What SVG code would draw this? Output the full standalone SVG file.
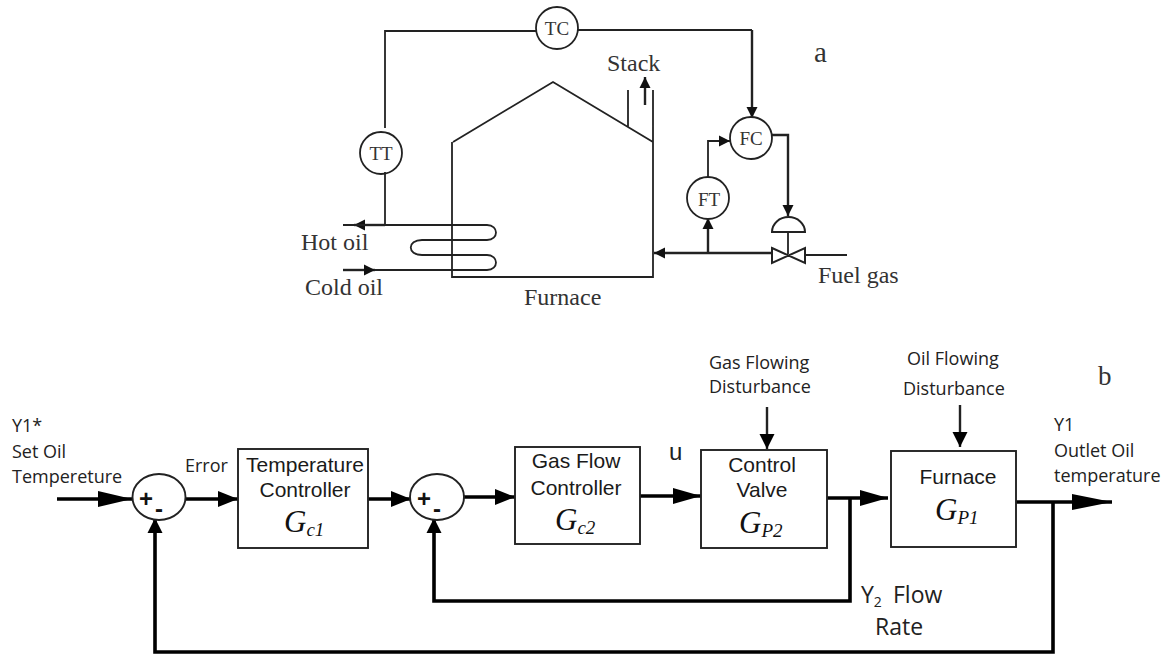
<svg xmlns="http://www.w3.org/2000/svg" width="1173" height="655" viewBox="0 0 1173 655">
<style>
.p{fill:none;stroke:#222;stroke-width:1.8}
.t{fill:none;stroke:#222;stroke-width:2.4}
.v{fill:none;stroke:#222;stroke-width:2}
.b{fill:#fff;stroke:#222;stroke-width:1.9}
.k{fill:none;stroke:#000;stroke-width:3.6}
.s{font-family:"Liberation Serif",serif;font-size:24px;fill:#333}
.i{font-family:"Liberation Serif",serif;font-size:19px;fill:#333;text-anchor:middle}
.a{font-family:"Liberation Sans",Arial,sans-serif;font-size:21px;fill:#1a1a1a;text-anchor:middle}
.o{font-family:"Open Sans",sans-serif;font-size:18px;fill:#222}
.l{font-family:"Open Sans",sans-serif;font-size:23px;fill:#222}
.m{font-family:"Liberation Sans",sans-serif;font-size:24px;font-weight:bold;text-anchor:middle;fill:#111}
.g{font-family:"Liberation Serif",serif;font-style:italic;font-size:31px;fill:#111}
.g tspan{font-size:19px}
</style>
<defs>
<marker id="sm" markerUnits="userSpaceOnUse" markerWidth="12" markerHeight="12" refX="11" refY="6" orient="auto"><path d="M0 0.500L11 6L0 11.500Z" fill="#111"/></marker>
<marker id="h34" markerUnits="userSpaceOnUse" markerWidth="36" markerHeight="18" refX="34" refY="9" orient="auto"><path d="M0 1L34 9L0 17Z" fill="#000"/></marker>
<marker id="h28" markerUnits="userSpaceOnUse" markerWidth="30" markerHeight="18" refX="28" refY="9" orient="auto"><path d="M0 1L28 9L0 17Z" fill="#000"/></marker>
<marker id="h20" markerUnits="userSpaceOnUse" markerWidth="22" markerHeight="18" refX="20" refY="9" orient="auto"><path d="M0 1L20 9L0 17Z" fill="#000"/></marker>
<marker id="h40" markerUnits="userSpaceOnUse" markerWidth="42" markerHeight="18" refX="40" refY="9" orient="auto"><path d="M0 1L40 9L0 17Z" fill="#000"/></marker>
<marker id="md" markerUnits="userSpaceOnUse" markerWidth="16" markerHeight="18" refX="15" refY="8" orient="auto"><path d="M0 0.500L15 8L0 15.500Z" fill="#000"/></marker>
</defs>
<g id="connectors">
<path class="p" d="M385 128V31H536M578 30H752"/>
<path class="t" d="M752 30V118" marker-end="url(#sm)"/>
<path class="p" d="M385 172V225"/>
<path class="t" d="M385 225H354" marker-end="url(#sm)"/>
<path class="p" d="M385 225H343M385 225H487C499 225 499 240 487 240H422C407 240 407 255 422 255H487C499 255 499 270 487 270H343"/>
<path class="t" d="M343 270H375" marker-end="url(#sm)"/>
<path class="p" d="M708 177V141H730" marker-end="url(#sm)"/>
<path class="t" d="M772 135H788V216" marker-end="url(#sm)"/>
<path class="t" d="M772 253H654" marker-end="url(#sm)"/>
<path class="t" d="M708 253V218" marker-end="url(#sm)"/>
<path class="p" d="M788 232V254M805 255H847"/>
<path class="t" d="M645 105V77" marker-end="url(#sm)"/>
<path class="k" d="M57 499H132" marker-end="url(#h34)"/>
<path class="k" d="M186 499H238" marker-end="url(#h20)"/>
<path class="k" d="M366 499H411" marker-end="url(#h20)"/>
<path class="k" d="M464 497H515" marker-end="url(#h20)"/>
<path class="k" d="M640 496H701" marker-end="url(#h28)"/>
<path class="k" d="M826 498H888" marker-end="url(#h28)"/>
<path class="k" d="M1016 502H1112" marker-end="url(#h40)"/>
<path class="t" d="M767 407V449" marker-end="url(#md)"/>
<path class="t" d="M960 405V447" marker-end="url(#md)"/>
<path class="k" d="M850 498V601H434V518" marker-end="url(#md)"/>
<path class="k" d="M1053 502V652H155V518" marker-end="url(#md)"/>
</g>
<g id="furnace">
<path class="p" d="M453 142L553 82L653 142M452 142V277H653V90M628 90V127"/>
<text class="s" x="607" y="71">Stack</text>
<text class="s" x="524" y="305">Furnace</text>
<text class="s" x="301" y="250">Hot oil</text>
<text class="s" x="305" y="295">Cold oil</text>
<text class="s" x="818" y="283">Fuel gas</text>
</g>
<g id="valve">
<path class="v" d="M772 232A16.500 15 0 0 1 805 232ZM772 248L805 263V248L772 263Z"/>
</g>
<g id="TC"><circle class="p" cx="557" cy="28" r="21"/><text class="i" x="557" y="35">TC</text></g>
<g id="TT"><circle class="p" cx="381" cy="153" r="21"/><text class="i" x="381" y="160">TT</text></g>
<g id="FC"><circle class="p" cx="751" cy="138" r="21"/><text class="i" x="751" y="145">FC</text></g>
<g id="FT"><circle class="p" cx="708" cy="198" r="21"/><text class="i" x="709" y="206">FT</text></g>
<text class="s" x="814" y="62" style="font-size:29px">a</text>
<text class="s" x="1098" y="385" style="font-size:27px">b</text>
<g id="sum1"><ellipse class="b" cx="159" cy="497" rx="26.500" ry="23"/><text class="m" x="146" y="507">+</text><text class="m" x="159" y="517">-</text></g>
<g id="sum2"><ellipse class="b" cx="437" cy="497" rx="27" ry="23"/><text class="m" x="424" y="507">+</text><text class="m" x="437" y="517">-</text></g>
<g id="box1"><rect class="b" x="238" y="449" width="130" height="99"/><text class="a" x="305" y="472">Temperature</text><text class="a" x="305" y="497">Controller</text><text class="g" x="284" y="532">G<tspan dy="4">c1</tspan></text></g>
<g id="box2"><rect class="b" x="515" y="447" width="125" height="97"/><text class="a" x="576" y="468">Gas Flow</text><text class="a" x="576" y="495">Controller</text><text class="g" x="555" y="530">G<tspan dy="4">c2</tspan></text></g>
<g id="box3"><rect class="b" x="701" y="450" width="126" height="98"/><text class="a" x="762" y="472">Control</text><text class="a" x="762" y="497">Valve</text><text class="g" x="739" y="533">G<tspan dy="4">P2</tspan></text></g>
<g id="box4"><rect class="b" x="891" y="451" width="125" height="96"/><text class="a" x="958" y="484">Furnace</text><text class="g" x="935" y="520">G<tspan dy="4">P1</tspan></text></g>
<g id="labels">
<text class="o" x="12" y="432">Y1*</text><text class="o" x="12" y="458">Set Oil</text><text class="o" x="12" y="483">Tempereture</text>
<text class="o" x="185" y="472">Error</text>
<text font-family="Liberation Sans,sans-serif" font-size="24" fill="#222" x="669" y="460">u</text>
<text class="o" x="709" y="369">Gas Flowing</text><text class="o" x="709" y="393">Disturbance</text>
<text class="o" x="907" y="365">Oil Flowing</text><text class="o" x="903" y="395">Disturbance</text>
<text class="o" x="1054" y="431">Y1</text><text class="o" x="1054" y="457">Outlet Oil</text><text class="o" x="1054" y="482">temperature</text>
<text class="l" x="861" y="603">Y<tspan font-size="14" dy="4">2</tspan><tspan dy="-4" x="893">Flow</tspan></text>
<text class="l" x="875" y="635">Rate</text>
</g>
</svg>
